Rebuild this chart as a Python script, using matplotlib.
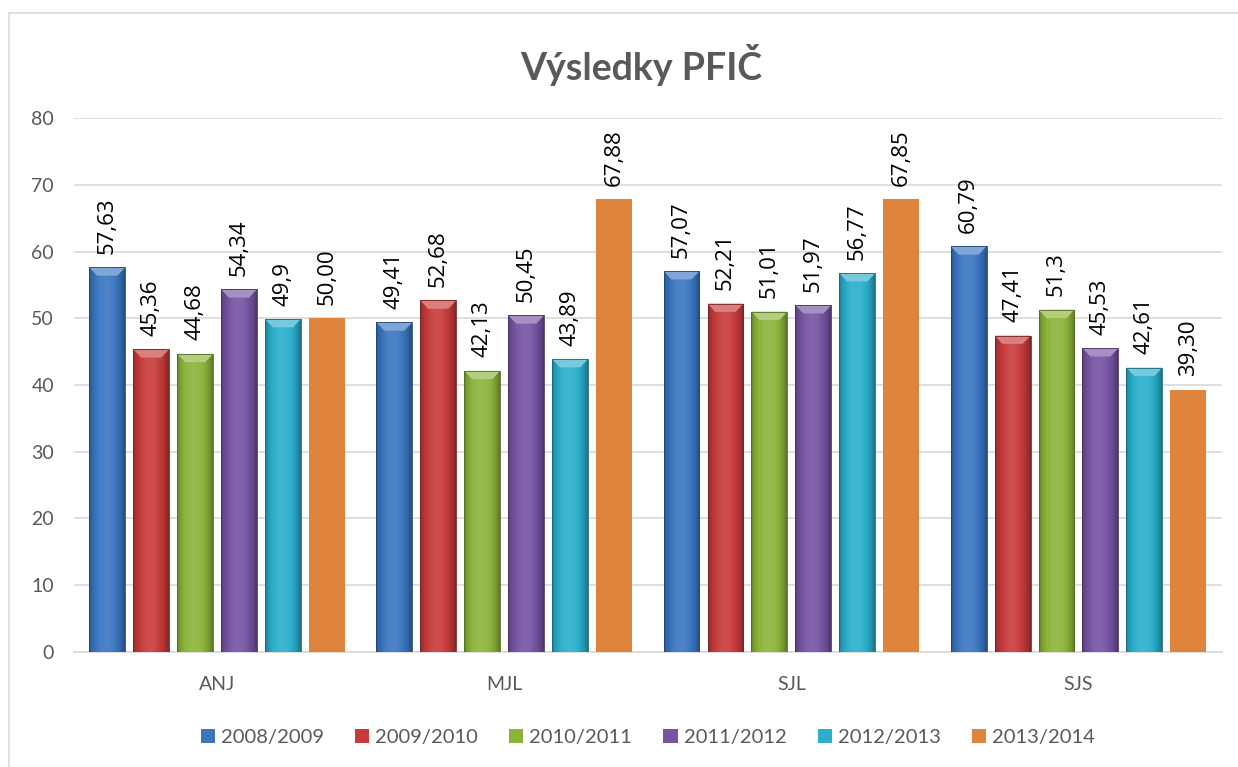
import numpy as np
import matplotlib
matplotlib.use("Agg")
import matplotlib.pyplot as plt
from matplotlib.patches import Polygon, Rectangle
from matplotlib.colors import to_rgb

categories = ["ANJ", "MJL", "SJL", "SJS"]
series_names = ["2008/2009", "2009/2010", "2010/2011", "2011/2012", "2012/2013", "2013/2014"]
values = [
    [57.63, 49.41, 57.07, 60.79],
    [45.36, 52.68, 52.21, 47.41],
    [44.68, 42.13, 51.01, 51.30],
    [54.34, 50.45, 51.97, 45.53],
    [49.90, 43.89, 56.77, 42.61],
    [50.00, 67.88, 67.85, 39.30],
]
labels = [
    ["57,63", "49,41", "57,07", "60,79"],
    ["45,36", "52,68", "52,21", "47,41"],
    ["44,68", "42,13", "51,01", "51,3"],
    ["54,34", "50,45", "51,97", "45,53"],
    ["49,9", "43,89", "56,77", "42,61"],
    ["50,00", "67,88", "67,85", "39,30"],
]
colors = ["#3a76c0", "#c63a3a", "#8bb43a", "#7653a3", "#2aaecb", "#df843d"]
bevel = [True, True, True, True, True, False]

plt.rcParams['font.family'] = ['Lato', 'DejaVu Sans']

fig = plt.figure(figsize=(12.38, 7.67), dpi=100)
ax = fig.add_axes([0.0594, 0.150, 0.9277, 0.696])

# chart border
fig.patches.append(Rectangle((9/1238, -0.1), 1.2, 1 - 13/767 + 0.1, transform=fig.transFigure,
                             fill=False, edgecolor="#d9d9d9", linewidth=1.2))

x = np.arange(len(categories))
step = 0.153
width = 0.125

def shade(c, f):
    c = np.array(to_rgb(c))
    if f < 1:
        return c * f
    return c + (1 - c) * (f - 1)

for i, (vals, c) in enumerate(zip(values, colors)):
    pos = x + (i - 2.5) * step
    bars = ax.bar(pos, vals, width, color=c, zorder=3, linewidth=0)
    for b, lab in zip(bars, labels[i]):
        x0 = b.get_x(); w = b.get_width(); h = b.get_height()
        if bevel[i]:
            t = np.linspace(0, 1, 64)
            prof = 0.72 + 0.42 * np.sin(np.pi * t) ** 0.7
            prof = prof - 0.08 * t
            grad = np.array([shade(c, f) for f in prof])[None, :, :]
            im = ax.imshow(grad, extent=[x0, x0 + w, 0, h], aspect='auto', zorder=3.1,
                           interpolation='bilinear')
            im.set_clip_path(b)
            dx = w * 0.22
            dh = 1.25
            top = Polygon([[x0, h], [x0 + w, h], [x0 + w - dx, h - dh], [x0 + dx, h - dh]],
                          closed=True, facecolor=shade(c, 1.35), edgecolor='none', zorder=3.2)
            ax.add_patch(top)
            ax.add_patch(Rectangle((x0, 0), w, h, fill=False, edgecolor=shade(c, 0.6),
                                   linewidth=0.6, zorder=3.3))
        ax.text(x0 + w / 2, h + 2.0, lab, rotation=90, ha='center', va='bottom',
                fontsize=16, color='black', zorder=4, family=['Open Sans', 'DejaVu Sans'])

# legend handles
for i, (n, c) in enumerate(zip(series_names, colors)):
    ax.bar([np.nan], [np.nan], color=c, label=n)

ax.set_xlim(-0.5, len(categories) - 0.5)
ax.set_ylim(0, 80)
ax.set_yticks(range(0, 81, 10))
ax.set_xticks(x)
ax.set_xticklabels(categories)
ax.yaxis.grid(True, color="#d9d9d9", linewidth=1.2, zorder=0)
ax.set_axisbelow(True)
for s in ['top', 'right', 'left']:
    ax.spines[s].set_visible(False)
ax.spines['bottom'].set_color("#d9d9d9")
ax.spines['bottom'].set_linewidth(1.2)
ax.tick_params(axis='both', length=0, labelsize=14, labelcolor="#595959")
ax.tick_params(axis='x', pad=17)
ax.tick_params(axis='y', pad=14)

fig.text(0.518, 0.915, "Výsledky PFIČ", ha='center', va='center', fontsize=27,
         fontweight='bold', color="#595959")

leg = ax.legend(loc='center', bbox_to_anchor=(0.5, -0.16), ncol=6, frameon=False,
                fontsize=14.5, handlelength=0.7, handleheight=0.7, handletextpad=0.3,
                columnspacing=1.55, labelcolor="#595959")

fig.savefig("out.png", dpi=100)
